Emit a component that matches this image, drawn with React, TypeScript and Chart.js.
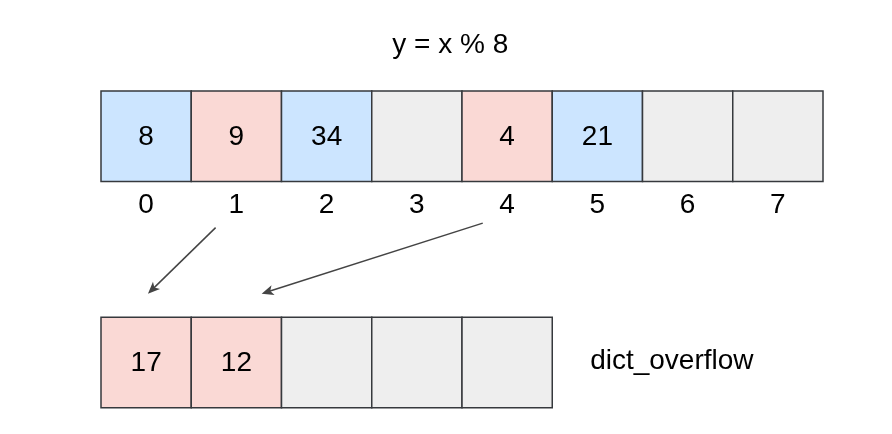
import { Chart, registerables } from "chart.js";
import { useEffect, useRef } from "react";

Chart.register(...registerables);

const title = "y = x % 8";
const slotLabels = ["0", "1", "2", "3", "4", "5", "6", "7"];
const slotKeys: (number | null)[] = [8, 9, 34, null, 4, 21, null, null];
const slotKinds: (string | null)[] = ["hit", "collide", "hit", null, "collide", "hit", null, null];
const overflowKeys: (number | null)[] = [17, 12, null, null, null];
const overflowKinds: (string | null)[] = ["collide", "collide", null, null, null];
const overflowLabel = "dict_overflow";
// arrows: slot index -> overflow index
const links: [number, number][] = [
  [1, 0],
  [4, 1],
];

const fills: Record<string, string> = { hit: "#cce5ff", collide: "#fad9d5" };
const emptyFill = "#eeeeee";
const stroke = "#36393d";
const font = "'Liberation Sans', Arial, sans-serif";
const fontSize = 28;

export default function App() {
  const canvasRef = useRef<HTMLCanvasElement | null>(null);

  useEffect(() => {
    if (!canvasRef.current) return;
    const diagram = {
      id: "diagram",
      afterDraw(chart: Chart) {
        const ctx = chart.ctx;
        const x = chart.scales.x;
        const y = chart.scales.y;
        const px = (v: number) => x.getPixelForValue(v);
        const py = (v: number) => y.getPixelForValue(v);
        const row = (keys: (number | null)[], kinds: (string | null)[], top: number) => {
          keys.forEach((k, i) => {
            const x0 = px(i), x1 = px(i + 1), y0 = py(top), y1 = py(top + 1);
            ctx.fillStyle = kinds[i] ? fills[kinds[i] as string] : emptyFill;
            ctx.fillRect(x0, y0, x1 - x0, y1 - y0);
            ctx.strokeStyle = stroke;
            ctx.lineWidth = 1.5;
            ctx.strokeRect(x0, y0, x1 - x0, y1 - y0);
            if (k !== null) {
              ctx.fillStyle = "#000";
              ctx.font = `${fontSize}px ${font}`;
              ctx.textAlign = "center";
              ctx.textBaseline = "middle";
              ctx.fillText(String(k), (x0 + x1) / 2, (y0 + y1) / 2 + 1);
            }
          });
        };
        ctx.save();
        row(slotKeys, slotKinds, 0);
        row(overflowKeys, overflowKinds, 2.5);
        ctx.fillStyle = "#000";
        ctx.font = `${fontSize}px ${font}`;
        ctx.textAlign = "center";
        ctx.textBaseline = "middle";
        slotLabels.forEach((l, i) => ctx.fillText(l, px(i + 0.5), py(1.26)));
        ctx.fillText(title, px(3.87), py(-0.51));
        ctx.textAlign = "left";
        ctx.fillText(overflowLabel, px(5.42), py(2.99));
        links.forEach(([s, t]) => {
          const sx = px(s + 0.27 - (s > 2 ? 0.04 : 0)), sy = py(s > 2 ? 1.46 : 1.51);
          const ex = px(t + 0.52 + (t > 0 ? 0.26 : 0)), ey = py(2.24);
          const ang = Math.atan2(ey - sy, ex - sx);
          ctx.strokeStyle = "#444";
          ctx.lineWidth = 1.5;
          ctx.beginPath();
          ctx.moveTo(sx, sy);
          ctx.lineTo(ex - 8 * Math.cos(ang), ey - 8 * Math.sin(ang));
          ctx.stroke();
          ctx.fillStyle = "#444";
          ctx.beginPath();
          ctx.moveTo(ex, ey);
          ctx.lineTo(ex - 13 * Math.cos(ang - 0.4), ey - 13 * Math.sin(ang - 0.4));
          ctx.lineTo(ex - 9 * Math.cos(ang), ey - 9 * Math.sin(ang));
          ctx.lineTo(ex - 13 * Math.cos(ang + 0.4), ey - 13 * Math.sin(ang + 0.4));
          ctx.closePath();
          ctx.fill();
        });
        ctx.restore();
      },
    };
    const chart = new Chart(canvasRef.current, {
      type: "scatter",
      data: { datasets: [{ data: [] }] },
      options: {
        animation: false,
        responsive: true,
        maintainAspectRatio: false,
        layout: { padding: 0 },
        plugins: { legend: { display: false }, tooltip: { enabled: false } },
        scales: {
          x: { type: "linear", display: false, min: -101 / 90.25, max: (892 - 101) / 90.25 },
          y: { type: "linear", display: false, reverse: true, min: -91 / 90.5, max: (434 - 91) / 90.5 },
        },
      },
      plugins: [diagram],
    });
    return () => chart.destroy();
  }, []);

  return (
    <div style={{ position: "absolute", left: 0, top: 0, width: 892, height: 434, background: "#fff" }}>
      <canvas ref={canvasRef} />
    </div>
  );
}
